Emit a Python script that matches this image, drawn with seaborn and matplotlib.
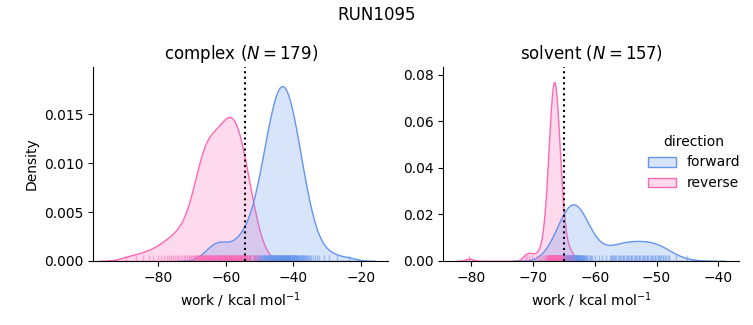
import numpy as np
import pandas as pd
import matplotlib
matplotlib.use("Agg")
import matplotlib.pyplot as plt
import seaborn as sns

# ---------------- data ----------------
phases = ["complex", "solvent"]
phase_n = [179, 157]
directions = ["forward", "reverse"]
colors = ["cornflowerblue", "hotpink"]
free_energy = [-54.4, -64.9]   # dotted vertical lines

complex_forward = [
    -66.3, -64.8, -63.9, -63.2, -62.6, -62.0, -61.3, -60.6, -59.7, -58.5,
    -57.4, -56.4, -55.8, -54.9, -52.9,
    -55.4, -54.4, -53.7, -53.1, -52.7, -52.1,
    -51.8, -51.5, -51.0, -50.8, -50.6, -50.4, -50.2, -50.0,
    -49.8, -49.6, -49.5, -49.3, -49.2, -49.0,
    -48.8, -48.7, -48.6, -48.5, -48.3, -48.1, -48.0,
    -47.8, -47.7, -47.6, -47.5, -47.4, -47.3, -47.2, -47.1, -47.0,
    -46.8, -46.7, -46.6, -46.5, -46.5, -46.4, -46.2, -46.1, -46.0, -45.9,
    -45.8, -45.7, -45.6, -45.6, -45.5, -45.4, -45.3, -45.2, -45.2, -45.1, -45.0, -44.9,
    -44.8, -44.7, -44.6, -44.5, -44.4, -44.4, -44.3, -44.2, -44.1, -44.1, -44.0, -43.9,
    -43.8, -43.7, -43.7, -43.6, -43.5, -43.4, -43.3, -43.2, -43.1, -43.1, -43.0, -42.9,
    -42.8, -42.7, -42.7, -42.6, -42.5, -42.4, -42.4, -42.3, -42.2, -42.1, -42.1, -41.9,
    -41.8, -41.7, -41.6, -41.6, -41.5, -41.4, -41.3, -41.2, -41.2, -41.1, -41.0, -40.9,
    -40.8, -40.7, -40.6, -40.5, -40.4, -40.3, -40.2, -40.1, -40.0, -39.9,
    -39.8, -39.7, -39.6, -39.5, -39.4, -39.3, -39.2, -39.1, -39.0,
    -38.8, -38.7, -38.5, -38.3, -38.2, -38.1, -38.0,
    -37.8, -37.6, -37.5, -37.3, -37.2, -37.0,
    -36.8, -36.6, -36.4, -36.2, -36.0,
    -35.8, -35.3, -35.0, -34.7, -34.1, -33.7, -33.1, -32.4,
    -30.8, -29.4, -27.2, -23.5,
]

complex_reverse = [
    # long low-work tail
    -89.4, -86.6, -84.5, -82.8, -81.4, -80.2, -79.2, -78.3, -77.5, -76.8,
    -76.2, -75.6, -75.0, -74.5, -74.0, -73.5, -73.0, -72.5, -72.0, -71.5,
    -71.0, -70.4, -69.6,
    # shoulder
    -70.8, -70.3, -69.8, -69.4, -69.2, -68.9, -68.7, -68.4, -68.3, -68.2,
    -67.9, -67.8, -67.7, -67.4, -67.3, -67.3, -67.2, -66.9, -66.8, -66.8,
    -66.7, -66.4, -66.3, -66.3, -66.2, -65.9, -65.8, -65.8, -65.7, -65.4,
    -65.3, -65.3, -65.2, -64.9, -64.8, -64.7, -64.4, -64.3, -64.2, -63.9,
    -63.7, -63.4, -63.2, -62.8, -62.3, -61.8,
    -62.2, -61.4, -60.6, -59.8,
    # main peak
    -66.8, -65.8, -65.0, -64.6, -64.1, -63.8, -63.5,
    -63.1, -62.9, -62.7, -62.5, -62.1, -62.0, -61.9, -61.7, -61.6, -61.5,
    -61.1, -61.0, -60.9, -60.8, -60.7, -60.6, -60.5,
    -60.2, -60.1, -60.0, -59.9, -59.8, -59.7, -59.6, -59.5, -59.4,
    -59.2, -59.1, -59.0, -58.9, -58.8, -58.8, -58.7, -58.6, -58.5, -58.4,
    -58.2, -58.1, -58.0, -57.9, -57.8, -57.8, -57.7, -57.6, -57.5, -57.4,
    -57.2, -57.1, -57.0, -56.9, -56.8, -56.8, -56.7, -56.6, -56.5, -56.4,
    -56.2, -56.1, -56.0, -55.9, -55.8, -55.7, -55.6, -55.5, -55.4,
    -55.2, -55.1, -55.0, -54.9, -54.7, -54.6, -54.5, -54.4,
    -54.1, -54.0, -53.9, -53.7, -53.6, -53.5,
    -53.1, -52.9, -52.7, -52.5, -52.1, -51.8, -51.5, -51.0, -50.6, -49.8,
]

solvent_forward = [
    -67.0, -66.6, -66.4, -66.2, -66.0, -65.8,
    -65.7, -65.6, -65.5, -65.4, -65.3,
    -65.2, -65.1, -65.1, -65.0, -65.0, -64.9, -64.9, -64.8,
    -64.7, -64.7, -64.6, -64.6, -64.5, -64.5, -64.5, -64.4, -64.4, -64.3, -64.3,
    -64.2, -64.2, -64.1, -64.1, -64.1, -64.0, -64.0, -63.9, -63.9, -63.9, -63.8, -63.8,
    -63.7, -63.7, -63.6, -63.6, -63.5, -63.5, -63.4, -63.4, -63.4, -63.3, -63.3,
    -63.2, -63.2, -63.1, -63.1, -63.1, -63.0, -63.0, -62.9, -62.9, -62.9, -62.8, -62.8,
    -62.7, -62.7, -62.6, -62.6, -62.5, -62.5, -62.5, -62.4, -62.4, -62.3, -62.3,
    -62.2, -62.1, -62.1, -62.0, -62.0, -61.9, -61.9, -61.8,
    -61.7, -61.6, -61.5, -61.4, -61.3, -61.2, -61.0, -60.8, -60.6, -60.4, -60.0,
    -59.3, -58.8, -58.2,
    -57.6, -57.4, -57.2, -57.0, -56.9, -56.7, -56.5, -56.3, -56.1, -55.9,
    -55.7, -55.5, -55.4, -55.2, -55.0, -54.8, -54.6, -54.4, -54.2, -54.1,
    -53.9, -53.7, -53.5, -53.3, -53.1, -52.9, -52.8, -52.6, -52.4, -52.2,
    -52.0, -51.8, -51.6, -51.5, -51.3, -51.1, -50.9, -50.7, -50.5, -50.3,
    -50.2, -50.0, -49.8, -49.6, -49.4, -49.2, -49.0, -48.9, -48.7, -48.5,
    -48.2, -47.9, -46.8, -45.1,
]

solvent_reverse = [
    -80.3, -71.3, -70.9, -70.6, -70.2, -69.4, -69.0, -68.7,
    -68.3, -68.1, -68.0, -67.9, -67.7, -67.7, -67.6, -67.6,
    -67.5, -67.5, -67.5, -67.4, -67.4, -67.3, -67.3, -67.3, -67.3,
    -67.2, -67.2, -67.2, -67.2, -67.1, -67.1, -67.1, -67.1,
    -67.0, -67.0, -67.0, -67.0, -67.0, -66.9, -66.9, -66.9, -66.9, -66.9,
    -66.8, -66.8, -66.8, -66.8, -66.8, -66.8, -66.8,
    -66.7, -66.7, -66.7, -66.7, -66.7, -66.7, -66.7,
    -66.6, -66.6, -66.6, -66.6, -66.6, -66.6, -66.6,
    -66.5, -66.5, -66.5, -66.5, -66.5, -66.5, -66.5,
    -66.4, -66.4, -66.4, -66.4, -66.4, -66.4, -66.4,
    -66.3, -66.3, -66.3, -66.3, -66.3, -66.3,
    -66.2, -66.2, -66.2, -66.2, -66.2,
    -66.1, -66.1, -66.1, -66.1, -66.1, -66.0, -66.0, -66.0, -66.0,
    -65.9, -65.9, -65.9, -65.9, -65.8, -65.8, -65.8,
    -65.7, -65.7, -65.7, -65.6, -65.6, -65.6, -65.5, -65.5, -65.4,
    -65.3, -65.2, -65.1, -65.0, -64.8, -64.5, -64.2, -63.9, -63.5,
]

work = {
    ("complex", "forward"): complex_forward,
    ("complex", "reverse"): complex_reverse,
    ("solvent", "forward"): solvent_forward,
    ("solvent", "reverse"): solvent_reverse,
}

frames = []
for (ph, d), vals in work.items():
    frames.append(pd.DataFrame({"work": vals, "phase": ph, "direction": d}))
df = pd.concat(frames, ignore_index=True)

# ---------------- plot ----------------
palette = dict(zip(directions, colors))
g = sns.displot(
    data=df, x="work", hue="direction", col="phase",
    col_order=phases, hue_order=directions, palette=palette,
    kind="kde", fill=True, rug=True,
    rug_kws=dict(height=0.03, alpha=0.5),
    facet_kws=dict(sharex=False, sharey=False),
    height=3.25, aspect=1.0,
)
fig = g.figure
fig.set_size_inches(7.53, 3.25)
fig.subplots_adjust(left=0.1235, right=0.981, bottom=0.197, top=0.794, wspace=0.186)

xlims = [(-99.3, -11.9), (-84.5, -36.7)]
ylims = [(0, 0.01984), (0, 0.0834)]
for ax, ph, n, dg, xl, yl in zip(g.axes.flat, phases, phase_n, free_energy, xlims, ylims):
    ax.axvline(dg, color="black", linestyle=":", linewidth=1.5)
    ax.set_title(f"{ph} ($N = {n}$)", fontsize=12)
    ax.set_xlabel("work / kcal mol$^{-1}$")
    ax.set_xlim(*xl)
    ax.set_ylim(*yl)
g.axes.flat[0].set_ylabel("Density")
g.axes.flat[1].set_ylabel("")

sns.move_legend(g, "center right", bbox_to_anchor=(1.0, 0.5), frameon=False,
                title="direction")
fig.suptitle("RUN1095", fontsize=12)

fig.savefig("out.png", dpi=100)
